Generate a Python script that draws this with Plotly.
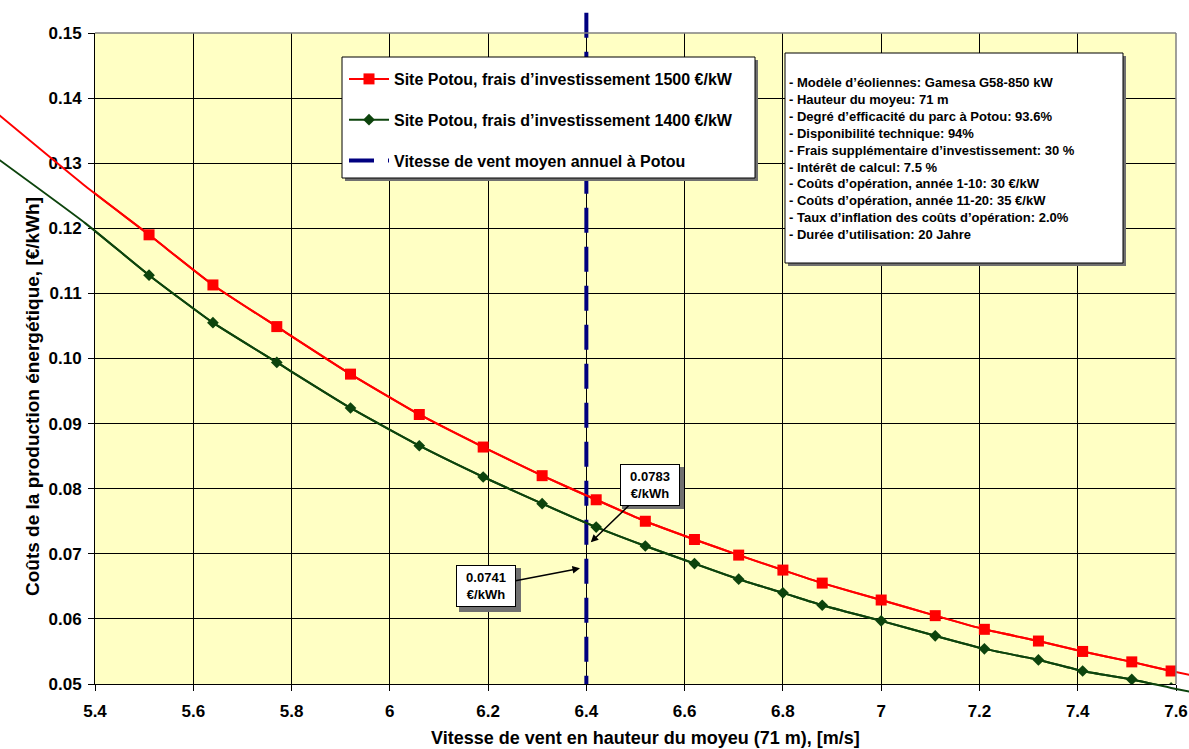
import plotly.graph_objects as go

# ---------------- data ----------------
wind_speed = [5.20, 5.38, 5.51, 5.64, 5.77, 5.92, 6.06, 6.19, 6.31, 6.42, 6.52, 6.62,
              6.71, 6.80, 6.88, 7.00, 7.11, 7.21, 7.32, 7.41, 7.51, 7.59, 7.68]
cost_1500 = [0.1377, 0.1265, 0.1190, 0.1113, 0.1049, 0.0976, 0.0914, 0.0864, 0.0820,
             0.0783, 0.0750, 0.0722, 0.0698, 0.0675, 0.0655, 0.0629, 0.0605, 0.0584,
             0.0566, 0.0550, 0.0534, 0.0520, 0.0506]
cost_1400 = [0.1308, 0.1208, 0.1128, 0.1055, 0.0994, 0.0924, 0.0866, 0.0818, 0.0777,
             0.0741, 0.0712, 0.0685, 0.0661, 0.0640, 0.0621, 0.0597, 0.0574, 0.0554,
             0.0537, 0.0520, 0.0507, 0.0494, 0.0480]
mean_wind_x = [6.4, 6.4]
mean_wind_y = [0.1531, 0.05]

series_names = ["Site Potou, frais d\u2019investissement 1500 \u20ac/kW",
                "Site Potou, frais d\u2019investissement 1400 \u20ac/kW",
                "Vitesse de vent moyen annuel \u00e0 Potou"]

info_lines = [
    "- Mod\u00e8le d\u2019\u00e9oliennes: Gamesa G58-850 kW",
    "- Hauteur du moyeu: 71 m",
    "- Degr\u00e9 d\u2019efficacit\u00e9 du parc \u00e0 Potou: 93.6%",
    "- Disponibilit\u00e9 technique: 94%",
    "- Frais suppl\u00e9mentaire d\u2019investissement: 30 %",
    "- Int\u00e9r\u00eat de calcul: 7.5 %",
    "- Co\u00fbts d\u2019op\u00e9ration, ann\u00e9e 1-10: 30 \u20ac/kW",
    "- Co\u00fbts d\u2019op\u00e9ration, ann\u00e9e 11-20: 35 \u20ac/kW",
    "- Taux d\u2019inflation des co\u00fbts d\u2019op\u00e9ration: 2.0%",
    "- Dur\u00e9e d\u2019utilisation: 20 Jahre",
]

x_range = [5.4, 7.6]
y_range = [0.05, 0.15]
x_title = "Vitesse de vent en hauteur du moyeu (71 m), [m/s]"
y_title = "Co\u00fbts de la production \u00e9nerg\u00e9tique, [\u20ac/kWh]"

# ---------------- layout geometry (pixels) ----------------
W, H = 1189, 749
PL, PR, PT, PB = 95, 1176, 33, 684


def px(x):
    return x / W


def py(y):
    return 1 - y / H


xpp = (x_range[1] - x_range[0]) / (PR - PL)
ypp = (y_range[1] - y_range[0]) / (PB - PT)
x2_range = [x_range[0] - PL * xpp, x_range[1] + (W - PR) * xpp]
y2_range = [y_range[0] - (H - PB) * ypp, y_range[1] + PT * ypp]

FONT = "Arial, 'Liberation Sans', sans-serif"
RED = "#FF0000"
GREEN = "#0d440d"
NAVY = "#000080"
SHADOW = "#707070"

fig = go.Figure()

# main (clipped) traces with markers -> legend entries
fig.add_trace(go.Scatter(
    x=wind_speed, y=cost_1500, mode="lines+markers", name=series_names[0],
    line=dict(color=RED, width=2, shape="spline", smoothing=0.5),
    marker=dict(symbol="square", size=11, color=RED),
    legendgroup="a", xaxis="x", yaxis="y"))
fig.add_trace(go.Scatter(
    x=wind_speed, y=cost_1400, mode="lines+markers", name=series_names[1],
    line=dict(color=GREEN, width=2, shape="spline", smoothing=0.5),
    marker=dict(symbol="diamond", size=9, color=GREEN),
    legendgroup="b", xaxis="x", yaxis="y"))

# full-figure overlay (lines run past the plot frame like in the original)
fig.add_trace(go.Scatter(
    x=mean_wind_x, y=mean_wind_y, mode="lines", name=series_names[2],
    line=dict(color=NAVY, width=4, dash="25px,14px"),
    legendgroup="c", xaxis="x2", yaxis="y2"))
fig.add_trace(go.Scatter(
    x=wind_speed, y=cost_1500, mode="lines", showlegend=False,
    line=dict(color=RED, width=2, shape="spline", smoothing=0.5),
    xaxis="x2", yaxis="y2", hoverinfo="skip"))
fig.add_trace(go.Scatter(
    x=wind_speed, y=cost_1400, mode="lines", showlegend=False,
    line=dict(color=GREEN, width=2, shape="spline", smoothing=0.5),
    xaxis="x2", yaxis="y2", hoverinfo="skip"))

tickfont = dict(family=FONT, size=17, color="black", weight="bold")


def box(x0, y0, x1, y1, shadow=3):
    return [
        dict(type="rect", xref="paper", yref="paper", x0=px(x0 + shadow), x1=px(x1 + shadow),
             y0=py(y1 + shadow), y1=py(y0 + shadow),
             fillcolor=SHADOW, line=dict(width=0), layer="above"),
        dict(type="rect", xref="paper", yref="paper", x0=px(x0), x1=px(x1), y0=py(y1), y1=py(y0),
             fillcolor="white", line=dict(color="black", width=1), layer="above"),
    ]


shapes = [
    # plot-area fill
    dict(type="rect", xref="x domain", yref="y domain", x0=0, x1=1, y0=0, y1=1,
         fillcolor="#FFFFC4", line=dict(width=0), layer="below"),
    # gray top / right frame
    dict(type="line", xref="x domain", yref="y domain", x0=0, x1=1, y0=1, y1=1,
         line=dict(color="#808080", width=1.5), layer="above"),
    dict(type="line", xref="x domain", yref="y domain", x0=1, x1=1, y0=0, y1=1,
         line=dict(color="#808080", width=1.5), layer="above"),
]
shapes += box(342, 57, 755, 178)      # legend frame
shapes += box(785, 53, 1123, 263)     # info box
# shadows of the value call-outs
shapes += [
    dict(type="rect", xref="paper", yref="paper", x0=px(622), x1=px(684), y0=py(509), y1=py(467),
         fillcolor=SHADOW, line=dict(width=0), layer="above"),
    dict(type="rect", xref="paper", yref="paper", x0=px(459), x1=px(521), y0=py(612), y1=py(568),
         fillcolor=SHADOW, line=dict(width=0), layer="above"),
]

annotations = [
    dict(xref="paper", yref="paper", x=px(787), y=py(158.7), xanchor="left", yanchor="middle",
         align="left", showarrow=False, text="<br>".join(info_lines),
         font=dict(family=FONT, size=13, color="black", weight="bold")),
    dict(xref="x", yref="y", x=6.409, y=0.07177, ax=59, ay=-57, text="0.0783<br>\u20ac/kWh",
         showarrow=True, arrowhead=2, arrowsize=1, arrowwidth=1.5, arrowcolor="black",
         bgcolor="white", bordercolor="black", borderwidth=1, borderpad=4, width=50,
         font=dict(family=FONT, size=13, color="black", weight="bold")),
    dict(xref="x", yref="y", x=6.387, y=0.06777, ax=-94, ay=18, text="0.0741<br>\u20ac/kWh",
         showarrow=True, arrowhead=2, arrowsize=1, arrowwidth=1.5, arrowcolor="black",
         bgcolor="white", bordercolor="black", borderwidth=1, borderpad=4, width=50,
         font=dict(family=FONT, size=13, color="black", weight="bold")),
    # axis titles
    dict(xref="paper", yref="paper", x=px(645), y=py(738), showarrow=False, text=x_title,
         xanchor="center", yanchor="middle",
         font=dict(family=FONT, size=18, color="black", weight="bold")),
    dict(xref="paper", yref="paper", x=px(32), y=py(397), showarrow=False, text=y_title,
         textangle=-90, xanchor="center", yanchor="middle",
         font=dict(family=FONT, size=19, color="black", weight="bold")),
]

fig.update_layout(
    width=W, height=H,
    margin=dict(l=0, r=0, t=0, b=0, autoexpand=False),
    paper_bgcolor="white",
    plot_bgcolor="rgba(0,0,0,0)",
    font=dict(family=FONT, color="black"),
    showlegend=True,
    legend=dict(x=px(344), y=py(62), xanchor="left", yanchor="top",
                bgcolor="rgba(0,0,0,0)", borderwidth=0,
                font=dict(family=FONT, size=16, color="black", weight="bold"),
                itemwidth=40, traceorder="grouped", tracegroupgap=17),
    xaxis=dict(domain=[px(PL), px(PR)], range=x_range, dtick=0.2, tick0=5.4,
               showgrid=True, gridcolor="black", gridwidth=1, zeroline=False,
               showline=True, linecolor="black", linewidth=1,
               ticks="outside", ticklen=6, tickcolor="black", ticklabelstandoff=6,
               tickfont=tickfont, anchor="y", automargin=False),
    yaxis=dict(domain=[py(PB), py(PT)], range=y_range, dtick=0.01, tick0=0.05,
               tickformat=".2f",
               showgrid=True, gridcolor="black", gridwidth=1, zeroline=False,
               showline=True, linecolor="black", linewidth=1,
               ticks="outside", ticklen=6, tickcolor="black", ticklabelstandoff=3,
               tickfont=tickfont, anchor="x", automargin=False),
    xaxis2=dict(domain=[0, 1], range=x2_range, visible=False, anchor="y2", fixedrange=True),
    yaxis2=dict(domain=[0, 1], range=y2_range, visible=False, anchor="x2", fixedrange=True),
    shapes=shapes,
    annotations=annotations,
)

fig.write_html("out.html",
               config={"displayModeBar": False},
               post_script="document.body.style.margin='0px';document.body.style.overflow='hidden';")
